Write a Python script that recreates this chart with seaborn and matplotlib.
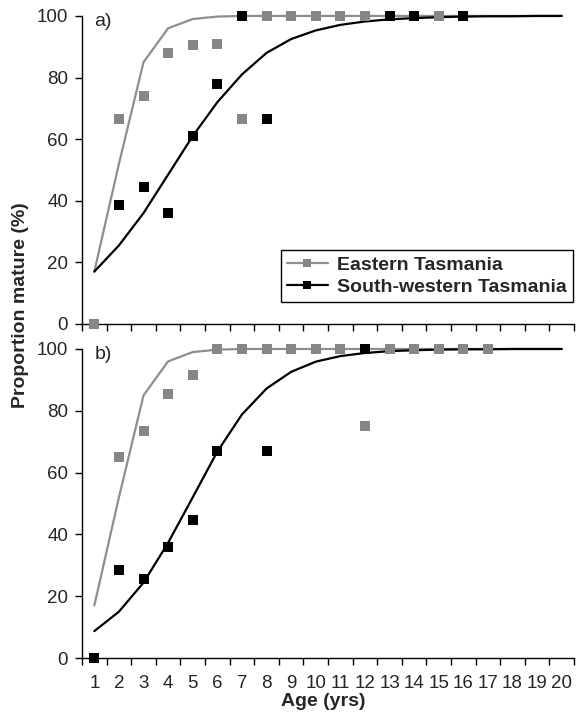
import matplotlib
matplotlib.use("Agg")
import pandas
import seaborn as sea
from matplotlib import pyplot
from matplotlib.lines import Line2D
from matplotlib.ticker import FixedLocator

sea.set_style("ticks")
pyplot.rcParams["font.family"] = ["Liberation Sans", "DejaVu Sans"]

# fitted curves, ages 1-20
fit_ages = list(range(1, 21))
fit_east = [17, 52, 85, 96, 99, 99.8, 100, 100, 100, 100,
            100, 100, 100, 100, 100, 100, 100, 100, 100, 100]
fit_sw_a = [17, 25.5, 36, 48.5, 61, 72, 81, 88, 92.5, 95.3,
            97.1, 98.2, 98.9, 99.3, 99.6, 99.8, 99.9, 99.9, 100, 100]
fit_sw_b = [8.7, 15, 24.4, 37.3, 52, 66.8, 78.8, 87.2, 92.6, 95.9,
            97.7, 98.7, 99.3, 99.6, 99.8, 99.9, 99.9, 100, 100, 100]

# observed proportions, panel a
east_a_age = [1, 2, 3, 4, 5, 6, 7, 8, 9, 10, 11, 12, 13, 14, 15]
east_a_val = [0, 66.5, 74, 88, 90.5, 91, 66.5, 100, 100, 100, 100, 100, 100, 100, 100]
sw_a_age = [2, 3, 4, 5, 6, 7, 8, 13, 14, 16]
sw_a_val = [38.5, 44.5, 36, 61, 78, 100, 66.5, 100, 100, 100]

# observed proportions, panel b
east_b_age = [2, 3, 4, 5, 6, 7, 8, 9, 10, 11, 12, 13, 14, 15, 16, 17]
east_b_val = [65, 73.5, 85.5, 91.5, 100, 100, 100, 100, 100, 100, 75, 100, 100, 100, 100, 100]
sw_b_age = [1, 2, 3, 4, 5, 6, 8, 12]
sw_b_val = [0, 28.5, 25.5, 36, 44.5, 67, 67, 100]

GREY = "#868686"
LINE_GREY = "#8e8e8e"
BLACK = "#000000"

fig = pyplot.figure(figsize=(5.76, 7.15), dpi=100)
ax_a = fig.add_axes([0.1424, 0.5469, 0.8542, 0.4308])
ax_b = fig.add_axes([0.1424, 0.0797, 0.8542, 0.4322])


def draw_panel(ax, sw_fit, east_age, east_val, sw_age, sw_val, tag):
    sea.lineplot(x=fit_ages, y=fit_east, color=LINE_GREY, linewidth=1.6,
                 ax=ax, clip_on=False, zorder=2)
    sea.lineplot(x=fit_ages, y=sw_fit, color=BLACK, linewidth=1.6,
                 ax=ax, clip_on=False, zorder=2)
    sea.scatterplot(x=east_age, y=east_val, marker="s", s=44, color=GREY,
                    linewidth=0, ax=ax, clip_on=False, zorder=3)
    sea.scatterplot(x=sw_age, y=sw_val, marker="s", s=44, color=BLACK,
                    linewidth=0, ax=ax, clip_on=False, zorder=4)
    ax.set_xlim(0.5, 20.5)
    ax.set_ylim(0, 100)
    ax.set_yticks([0, 20, 40, 60, 80, 100])
    ax.set_xticks(fit_ages)
    ax.xaxis.set_minor_locator(FixedLocator([i + 0.5 for i in range(0, 21)]))
    ax.tick_params(axis="x", which="major", length=0, pad=12, labelsize=13.5)
    ax.tick_params(axis="x", which="minor", length=5, width=1, color="black")
    ax.tick_params(axis="y", length=5, width=1, color="black", pad=5,
                   labelsize=13.5)
    for s in ["top", "right"]:
        ax.spines[s].set_visible(False)
    for s in ["left", "bottom"]:
        ax.spines[s].set_color("black")
        ax.spines[s].set_linewidth(1)
    ax.set_xlabel("")
    ax.set_ylabel("")
    ax.text(0.025, 1.01, tag, transform=ax.transAxes, fontsize=14,
            va="top", ha="left")


draw_panel(ax_a, fit_sw_a, east_a_age, east_a_val, sw_a_age, sw_a_val, "a)")
draw_panel(ax_b, fit_sw_b, east_b_age, east_b_val, sw_b_age, sw_b_val, "b)")
ax_a.tick_params(axis="x", labelbottom=False)

handles = [
    Line2D([], [], color=LINE_GREY, linewidth=1.6, marker="s",
           markersize=6, markerfacecolor=GREY, markeredgewidth=0),
    Line2D([], [], color=BLACK, linewidth=1.6, marker="s",
           markersize=6, markerfacecolor=BLACK, markeredgewidth=0),
]
leg = ax_a.legend(handles, ["Eastern Tasmania", "South-western Tasmania"],
                  loc="lower right", bbox_to_anchor=(0.998, 0.0714),
                  borderaxespad=0, fancybox=False, framealpha=1,
                  edgecolor="black", handlelength=2.1, handletextpad=0.5,
                  labelspacing=0.25, borderpad=0.3,
                  prop={"weight": "bold", "size": 14})
leg.get_frame().set_linewidth(1)

fig.text(0.035, 1 - 305 / 715, "Proportion mature (%)", rotation=90,
         fontsize=14, fontweight="bold", ha="center", va="center")
fig.text(323 / 576, 1 - 702 / 715, "Age (yrs)", fontsize=14,
         fontweight="bold", ha="center", va="center")

fig.savefig("out.png", dpi=100)
